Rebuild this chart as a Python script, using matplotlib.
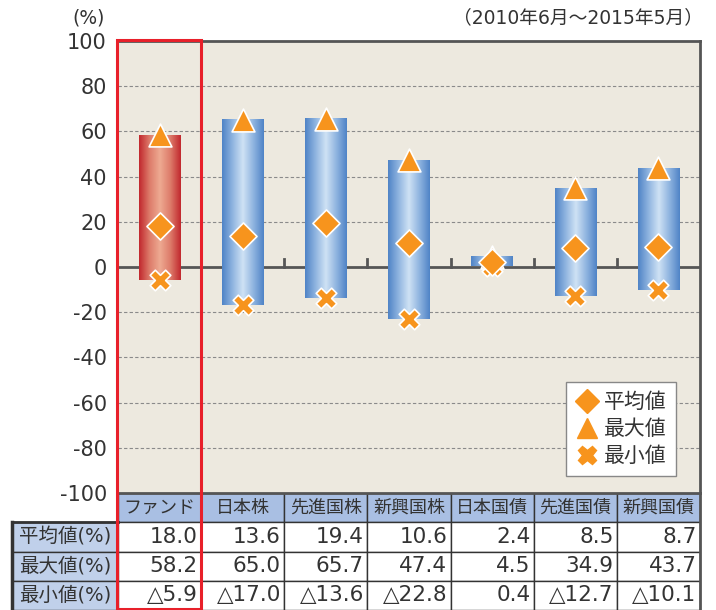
import matplotlib.pyplot as plt
import numpy as np
from matplotlib.colors import LinearSegmentedColormap
from matplotlib.patches import Rectangle
from matplotlib.lines import Line2D

plt.rcParams['font.family'] = ['DejaVu Sans', 'Noto Sans CJK JP']
plt.rcParams['axes.unicode_minus'] = False

# データ
categories = ['ファンド', '日本株', '先進国株', '新興国株', '日本国債', '先進国債', '新興国債']
avg_vals = [18.0, 13.6, 19.4, 10.6, 2.4, 8.5, 8.7]
max_vals = [58.2, 65.0, 65.7, 47.4, 4.5, 34.9, 43.7]
min_vals = [-5.9, -17.0, -13.6, -22.8, 0.4, -12.7, -10.1]
row_labels = ['平均値(%)', '最大値(%)', '最小値(%)']
avg_text = ['18.0', '13.6', '19.4', '10.6', '2.4', '8.5', '8.7']
max_text = ['58.2', '65.0', '65.7', '47.4', '4.5', '34.9', '43.7']
min_text = ['△5.9', '△17.0', '△13.6', '△22.8', '0.4', '△12.7', '△10.1']

W, H = 716, 610
fig = plt.figure(figsize=(W / 100, H / 100), dpi=100)

# 描画領域 (ピクセル)
px_left, px_right, px_top, px_bot = 118, 700, 41, 493
ax = fig.add_axes([px_left / W, 1 - px_bot / H, (px_right - px_left) / W, (px_bot - px_top) / H])
ax.set_facecolor('#ede9df')

# グリッド
for y in range(-80, 100, 20):
    if y == 0:
        continue
    ax.axhline(y, color='#8a8a8a', lw=0.8, dashes=(3, 2), zorder=1)
ax.axhline(0, color='#555555', lw=2, zorder=2)
for b in np.arange(1.5, 6.5, 1):
    ax.plot([b, b], [0, 3.5], color='#555555', lw=2, zorder=2)

# グラデーションの棒
blue = LinearSegmentedColormap.from_list('b', ['#4f83c6', '#8fb4e0', '#cfe2f5', '#8fb4e0', '#4f83c6'])
red = LinearSegmentedColormap.from_list('r', ['#c1272d', '#dd7b6a', '#eeaa92', '#dd7b6a', '#c1272d'])
grad = np.linspace(0, 1, 256).reshape(1, -1)
bw = 0.5
for i in range(len(categories)):
    cmap = red if i == 0 else blue
    ax.imshow(grad, cmap=cmap, aspect='auto', zorder=3,
              extent=[i - bw / 2, i + bw / 2, min_vals[i], max_vals[i]])
ax.set_xlim(-0.5, 6.5)
ax.set_ylim(-100, 100)

x = np.arange(len(categories))
orange = '#f7941d'
ax.scatter(x, max_vals, marker='^', s=270, color=orange, edgecolor='white', linewidth=1.2, zorder=5)
ax.scatter(x, min_vals, marker='X', s=220, color=orange, edgecolor='white', linewidth=1.2, zorder=5)
ax.scatter(x, avg_vals, marker='D', s=190, color=orange, edgecolor='white', linewidth=1.2, zorder=6)

ax.set_xticks([])
ax.set_yticks(range(-100, 101, 20))
ax.tick_params(axis='y', length=0, labelsize=15, labelcolor='#333333', pad=8)
for s in ['top', 'right']:
    ax.spines[s].set_color('#555555')
    ax.spines[s].set_linewidth(2)
ax.spines['left'].set_visible(False)
ax.spines['bottom'].set_visible(False)

handles = [Line2D([], [], marker='D', ls='', color=orange, ms=12),
           Line2D([], [], marker='^', ls='', color=orange, ms=14),
           Line2D([], [], marker='X', ls='', color=orange, ms=13)]
leg = ax.legend(handles, ['平均値', '最大値', '最小値'], loc='lower right',
                bbox_to_anchor=(0.959, 0.038), fancybox=False, framealpha=1,
                edgecolor='#888888', fontsize=15, handletextpad=0.2,
                handlelength=1.2, labelspacing=0.35, borderpad=0.45,
                borderaxespad=0)
for t in leg.get_texts():
    t.set_color('#333333')

fig.text(89 / W, 1 - 18 / H, '(%)', ha='center', va='center', fontsize=13.5, color='#333333')
fig.text(703 / W, 1 - 18 / H, '（2010年6月～2015年5月）', ha='right', va='center',
         fontsize=13.5, color='#333333')

# 表
cw = (px_right - px_left) / 7
lab_w = (px_left - 12) / cw
tx = fig.add_axes([12 / W, 0, (px_right - 12) / W, (H - px_bot) / H])
tx.set_xlim(-0.5 - lab_w, 6.5)
tx.set_ylim(4, 0)
tx.axis('off')

for i, c in enumerate(categories):
    tx.add_patch(Rectangle((i - 0.5, 0), 1, 1, fc='#a9bfe3', ec='#333333', lw=1))
    tx.text(i, 0.5, c, ha='center', va='center', fontsize=13, color='#333333')
rows = [avg_text, max_text, min_text]
for r in range(3):
    tx.add_patch(Rectangle((-0.5 - lab_w, r + 1), lab_w, 1, fc='#c0d0ea', ec='#333333', lw=1))
    tx.text(-0.5 - lab_w / 2, r + 1.5, row_labels[r], ha='center', va='center',
            fontsize=14, color='#333333')
    for i in range(7):
        tx.add_patch(Rectangle((i - 0.5, r + 1), 1, 1, fc='white', ec='#333333', lw=1))
        tx.text(i + 0.46, r + 1.5, rows[r][i], ha='right', va='center', fontsize=15.5,
                color='#333333')
tx.plot([-0.5 - lab_w, -0.5 - lab_w], [1, 4], color='#333333', lw=2.5, clip_on=False)
tx.plot([-0.5 - lab_w, -0.5], [1, 1], color='#333333', lw=2, clip_on=False)
tx.plot([6.5, 6.5], [0, 4], color='#555555', lw=2, clip_on=False)
tx.plot([-0.5, 6.5], [0, 0], color='#555555', lw=2, clip_on=False)

# 赤枠
fig.patches.append(Rectangle((117 / W, 0.002), 84 / W, (H - 40) / H - 0.002, transform=fig.transFigure,
                             fill=False, ec='#e8202a', lw=2.2, zorder=10))

plt.savefig('out.png', dpi=100)
